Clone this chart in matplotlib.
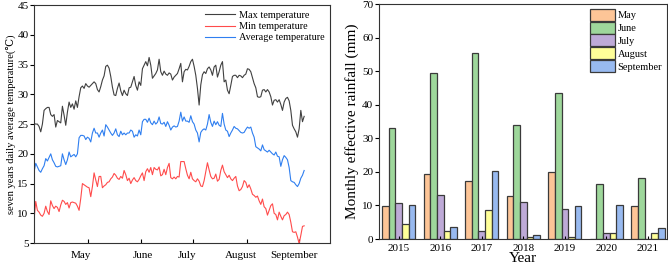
import numpy as np
import matplotlib
matplotlib.use("Agg")
import matplotlib.pyplot as plt
from matplotlib.ticker import FixedLocator, NullFormatter

plt.rcParams["font.family"] = ["Liberation Serif", "DejaVu Serif"]

# daily series (seven-year mean), left panel
max_temp = [
    25.1, 25.0, 25.0, 24.6, 23.7, 25.0, 27.3, 27.6, 27.8, 27.8,
    26.6, 26.3, 26.6, 24.5, 25.6, 25.4, 25.2, 28.0, 26.5, 24.8,
    27.0, 28.7, 27.8, 28.4, 27.5, 28.9, 27.8, 29.6, 31.1, 31.4,
    31.0, 31.8, 31.4, 31.2, 31.5, 31.8, 32.1, 31.8, 30.8, 30.4,
    31.3, 32.4, 33.1, 34.7, 34.9, 34.4, 33.0, 31.2, 29.9, 29.8,
    31.0, 31.9, 30.6, 29.8, 30.7, 30.1, 29.8, 31.1, 31.2, 32.1,
    33.0, 31.5, 30.7, 32.1, 31.5, 34.3, 34.9, 35.5, 34.8, 36.2,
    34.9, 32.7, 33.1, 33.5, 34.1, 35.9, 33.8, 33.2, 33.9, 33.4,
    33.2, 33.6, 33.4, 32.4, 32.9, 33.2, 33.5, 34.3, 35.2, 32.1,
    33.8, 34.2, 34.1, 34.7, 35.5, 35.9, 34.7, 33.2, 31.0, 28.2,
    31.6, 33.3, 33.8, 33.5, 34.3, 34.6, 34.1, 33.2, 34.6, 34.9,
    32.9, 33.8, 34.9, 35.5, 32.1, 32.4, 30.7, 30.1, 31.5, 33.0,
    33.2, 33.2, 32.8, 33.2, 33.1, 32.8, 33.2, 33.4, 34.3, 34.2,
    33.8, 32.8, 31.8, 31.1, 29.6, 29.5, 29.6, 30.7, 30.8, 30.4,
    30.8, 30.4, 29.6, 28.2, 29.0, 29.1, 28.7, 29.1, 28.3, 27.3,
    28.7, 29.3, 29.5, 28.9, 27.3, 24.8, 24.2, 23.7, 22.8, 24.2,
    27.3, 25.4, 26.3,
]
min_temp = [
    9.0, 12.0, 10.5, 10.2, 9.7, 9.5, 10.0, 11.2, 10.3, 9.8,
    12.1, 11.3, 10.8, 11.2, 11.0, 10.3, 11.4, 12.2, 12.0, 11.5,
    11.8, 10.9, 11.8, 11.9, 11.8, 11.7, 11.2, 10.5, 12.5, 15.0,
    14.8, 14.6, 14.4, 14.3, 12.8, 14.5, 16.8, 15.6, 14.5, 16.2,
    16.2, 14.3, 14.6, 14.8, 15.2, 15.3, 15.8, 16.1, 16.7, 16.4,
    15.9, 15.7, 16.2, 15.9, 17.2, 16.5, 15.5, 15.9, 15.0, 15.6,
    16.0, 15.5, 15.3, 15.7, 16.3, 16.8, 15.5, 17.0, 17.5, 16.9,
    17.7, 16.5, 17.7, 17.4, 17.3, 17.8, 16.3, 16.5, 17.4, 16.5,
    17.7, 18.4, 16.0, 15.8, 16.1, 15.8, 16.2, 16.1, 18.7, 18.7,
    18.7, 17.5, 16.4, 15.8, 16.9, 15.8, 15.5, 15.3, 15.8, 15.4,
    14.6, 14.5, 15.5, 17.0, 18.5, 17.3, 16.2, 15.8, 15.9, 16.6,
    15.4, 15.7, 17.2, 18.1, 17.0, 16.5, 16.0, 16.4, 15.8, 15.5,
    15.9, 16.2, 14.6, 13.8, 14.0, 14.5, 15.5, 15.2, 14.3, 14.8,
    14.1, 13.2, 13.0, 12.7, 12.9, 12.1, 11.5, 12.4, 11.1, 10.8,
    9.7, 10.5, 11.3, 11.6, 10.0, 9.8, 8.9, 10.2, 9.5, 8.9,
    9.6, 9.8, 10.2, 9.8, 8.5, 6.9, 6.8, 6.9, 6.0, 4.9,
    6.3, 7.8, 7.9,
]
avg_temp = [
    17.0, 18.4, 17.8, 17.2, 16.9, 17.5, 18.0, 19.2, 18.8, 19.4,
    20.0, 19.0, 18.5, 17.9, 17.8, 17.9, 18.0, 20.0, 19.0, 18.2,
    19.0, 20.3, 19.5, 19.7, 19.9, 19.5, 20.0, 22.7, 23.1, 23.1,
    23.0, 22.4, 22.8, 22.6, 22.0, 23.5, 24.3, 23.5, 23.5, 22.8,
    23.5, 24.0, 23.0, 24.9, 24.5, 24.0, 23.5, 23.1, 23.5, 24.2,
    23.2, 22.9, 23.8, 23.2, 23.5, 23.2, 23.5, 23.5, 24.0, 23.8,
    22.8, 23.2, 23.0, 24.0, 23.2, 25.4, 25.8, 25.8, 25.3, 26.0,
    25.2, 24.9, 25.5, 25.0, 25.3, 26.2, 25.1, 25.0, 25.3, 24.6,
    25.4, 24.8, 24.0, 24.5, 24.7, 24.5, 24.6, 25.5, 27.0, 25.5,
    26.2, 25.5, 25.5, 25.3, 26.4, 25.4, 25.0, 24.0, 23.5, 22.0,
    23.6, 24.0, 24.2, 24.0, 25.0, 26.6, 25.3, 24.6, 25.5, 24.9,
    25.4, 24.8, 24.6, 26.8, 25.0, 24.0, 23.8, 22.9, 23.5, 24.0,
    24.6, 24.3, 24.2, 23.9, 23.6, 23.5, 23.6, 24.1, 24.5, 24.3,
    24.5, 23.5, 22.8, 21.2, 21.0, 20.8, 20.5, 21.5, 20.7, 20.5,
    20.3, 20.6, 20.3, 20.0, 19.8, 20.3, 19.6, 19.5, 17.9, 19.0,
    19.7, 19.4, 19.0, 17.7, 15.5, 15.3, 15.2, 14.8, 14.5, 15.0,
    15.9, 16.4, 17.2,
]
month_ticks = [32.2, 64, 95.2, 128, 159]
month_label_pos = [28, 65, 92, 124, 156]
month_labels = ["May", "June", "July", "August", "September"]

# monthly effective rainfall, right panel
years = ["2015", "2016", "2017", "2018", "2019", "2020", "2021"]
rain = {
    "May":       [9.7, 19.4, 17.3, 12.9, 20.1, 0.0, 9.8],
    "June":      [33.0, 49.4, 55.5, 33.9, 43.4, 16.3, 18.2],
    "July":      [10.7, 13.1, 2.4, 11.0, 8.9, 1.8, 0.0],
    "August":    [4.4, 2.4, 8.8, 0.6, 0.6, 1.8, 1.8],
    "September": [10.2, 3.6, 20.2, 1.1, 9.9, 10.0, 3.4],
}
bar_colors = ["#FDC597", "#9ED79B", "#BEAAD7", "#FFFF99", "#98BAF0"]

fig = plt.figure(figsize=(6.68, 2.68), dpi=100)

# ---- left: temperature
ax1 = fig.add_axes([0.051, 0.093, 0.443, 0.888])
ax1.plot(np.arange(len(max_temp)), max_temp, color="#404040", lw=0.8, label="Max temperature")
ax1.plot(np.arange(len(min_temp)), min_temp, color="#FF4B4B", lw=0.8, label="Min temperature")
ax1.plot(np.arange(len(avg_temp)), avg_temp, color="#2F7FF0", lw=0.8, label="Average temperature")
ax1.set_xlim(0, 177.5)
ax1.set_ylim(5, 45)
ax1.set_yticks(range(5, 46, 5))
ax1.xaxis.set_major_locator(FixedLocator(month_ticks))
ax1.xaxis.set_major_formatter(NullFormatter())
ax1.xaxis.set_minor_locator(FixedLocator(month_label_pos))
ax1.set_xticklabels(month_labels, minor=True)
ax1.tick_params(axis="x", which="major", direction="in", length=3, width=0.8)
ax1.tick_params(axis="x", which="minor", length=0, pad=6, labelsize=8)
ax1.tick_params(axis="y", direction="out", length=3, width=0.8, labelsize=8, pad=1)
ax1.set_ylabel("seven years daily average temperature(\u2103)", fontsize=7.6, labelpad=1)
ax1.legend(loc="upper right", frameon=False, fontsize=7.4, handlelength=2.9,
           labelspacing=0.2, borderaxespad=0.15, handletextpad=0.4)
for s in ax1.spines.values():
    s.set_linewidth(0.8)
    s.set_color("#333333")

# ---- right: rainfall
ax2 = fig.add_axes([0.567, 0.108, 0.4315, 0.877])
x = np.arange(len(years))
w = 0.16
for k, (month, vals) in enumerate(rain.items()):
    ax2.bar(x + (k - 2) * w, vals, width=w, color=bar_colors[k],
            edgecolor="#3a3a3a", linewidth=0.9, label=month)
ax2.set_xlim(-0.48, 6.46)
ax2.set_ylim(0, 70)
ax2.set_yticks(range(0, 71, 10))
ax2.set_xticks(x)
ax2.set_xticklabels(years)
ax2.tick_params(axis="x", direction="in", length=2.5, width=0.8, labelsize=8)
ax2.tick_params(axis="y", direction="out", length=3, width=0.8, labelsize=8, pad=1)
ax2.set_ylabel("Monthly effective rainfall (mm)", fontsize=11, labelpad=2)
ax2.set_xlabel("Year", fontsize=11, labelpad=-1)
ax2.legend(loc="upper right", frameon=False, fontsize=7.5, handlelength=2.4,
           handleheight=1.4, labelspacing=0.08, borderaxespad=0.05, handletextpad=0.25)
for s in ax2.spines.values():
    s.set_linewidth(0.8)
    s.set_color("#333333")

fig.savefig("out.png", dpi=100)
